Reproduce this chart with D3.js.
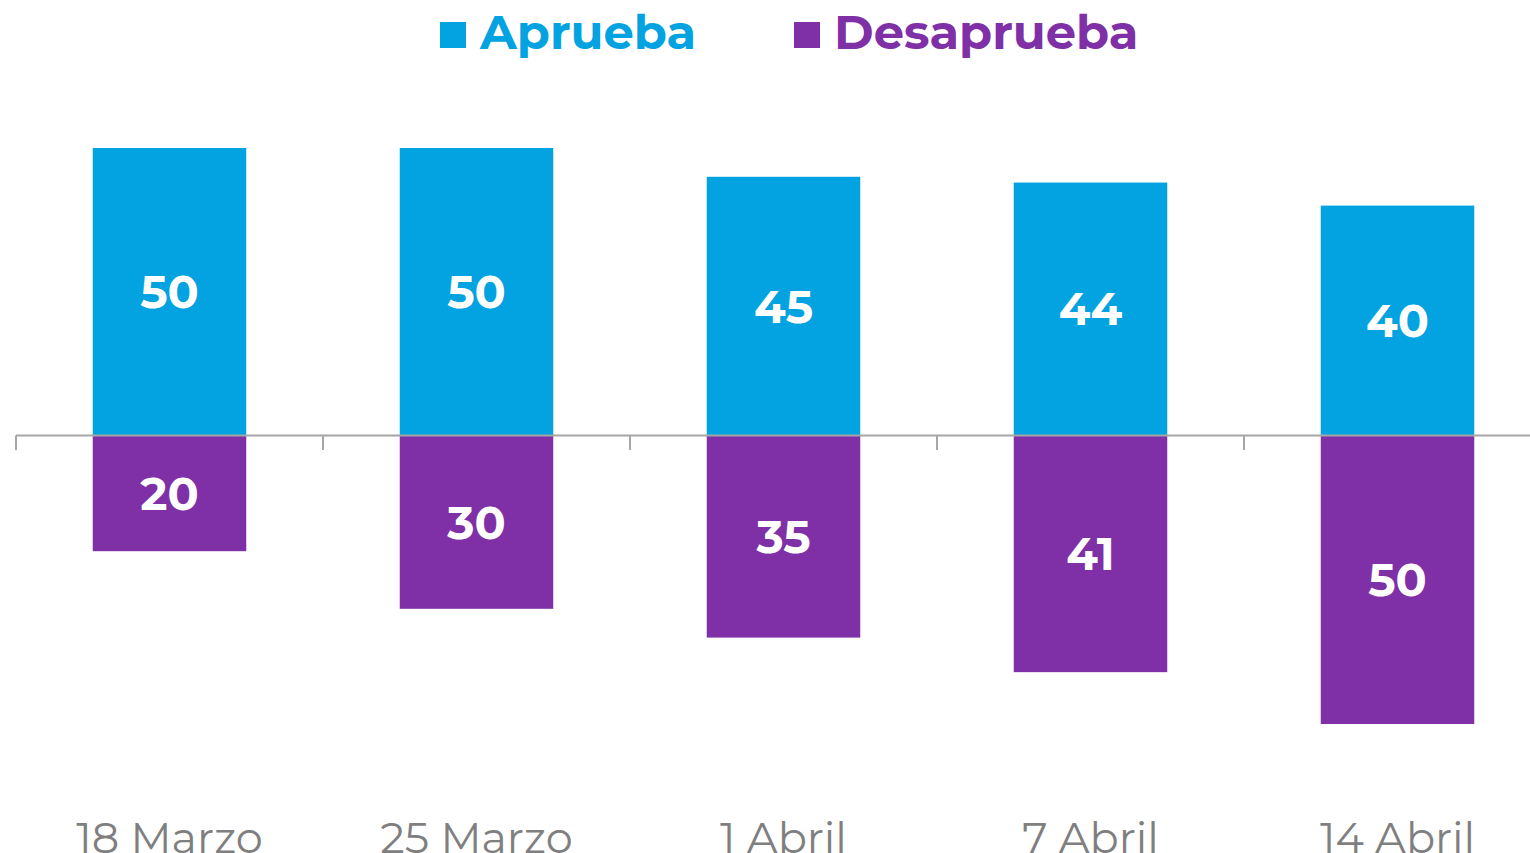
<!DOCTYPE html>
<html>
<head>
<meta charset="utf-8">
<script src="https://cdn.jsdelivr.net/npm/d3@7"></script>
<style>
  body { margin: 0; background: #fff; }
  svg { display: block; }
</style>
</head>
<body>
<script>
// chart data
const fechas = ['18 Marzo', '25 Marzo', '1 Abril', '7 Abril', '14 Abril'];
const aprueba = [50, 50, 45, 44, 40];
const desaprueba = [20, 30, 35, 41, 50];

const W = 1530, H = 853;
const zeroY = 436;
const font = "Montserrat, Lato, 'Open Sans', sans-serif";

const svg = d3.select('body').append('svg')
  .attr('width', W)
  .attr('height', H);

const x = d3.scaleBand()
  .domain(fechas)
  .range([16, 1551])
  .paddingInner(0.5)
  .paddingOuter(0.25);

const y = d3.scaleLinear()
  .domain([-50, 50])
  .range([zeroY + 288, zeroY - 288]);

// aprueba bars (upwards)
svg.selectAll('.apr')
  .data(aprueba)
  .enter().append('rect')
  .attr('class', 'apr')
  .attr('x', (d, i) => x(fechas[i]))
  .attr('width', x.bandwidth())
  .attr('y', d => y(d))
  .attr('height', d => y(0) - y(d))
  .attr('fill', '#03A2E0');

// desaprueba bars (downwards)
svg.selectAll('.des')
  .data(desaprueba)
  .enter().append('rect')
  .attr('class', 'des')
  .attr('x', (d, i) => x(fechas[i]))
  .attr('width', x.bandwidth())
  .attr('y', y(0))
  .attr('height', d => y(-d) - y(0))
  .attr('fill', '#7F30A6');

// value labels
svg.selectAll('.lblA')
  .data(aprueba)
  .enter().append('text')
  .attr('x', (d, i) => x(fechas[i]) + x.bandwidth() / 2)
  .attr('y', d => (y(d) + y(0)) / 2)
  .attr('dy', '0.35em')
  .attr('text-anchor', 'middle')
  .attr('fill', '#fff')
  .attr('font-family', font)
  .attr('font-weight', 'bold')
  .attr('font-size', '46px')
  .text(d => d);

svg.selectAll('.lblD')
  .data(desaprueba)
  .enter().append('text')
  .attr('x', (d, i) => x(fechas[i]) + x.bandwidth() / 2)
  .attr('y', d => (y(-d) + y(0)) / 2)
  .attr('dy', '0.35em')
  .attr('text-anchor', 'middle')
  .attr('fill', '#fff')
  .attr('font-family', font)
  .attr('font-weight', 'bold')
  .attr('font-size', '46px')
  .text(d => d);

// axis at zero, ticks on band edges
const axis = svg.append('g');
axis.append('line')
  .attr('x1', 16).attr('x2', 1551)
  .attr('y1', zeroY - 0.5).attr('y2', zeroY - 0.5)
  .attr('stroke', '#a6a6a6')
  .attr('stroke-width', 2);
axis.selectAll('.tk')
  .data(fechas)
  .enter().append('line')
  .attr('x1', d => x(d) - x.step() * 0.25)
  .attr('x2', d => x(d) - x.step() * 0.25)
  .attr('y1', zeroY - 0.5)
  .attr('y2', zeroY + 14)
  .attr('stroke', '#a6a6a6')
  .attr('stroke-width', 2);

// category labels
svg.selectAll('.cat')
  .data(fechas)
  .enter().append('text')
  .attr('x', d => x(d) + x.bandwidth() / 2)
  .attr('y', 853)
  .attr('text-anchor', 'middle')
  .attr('fill', '#7f7f7f')
  .attr('font-family', font)
  .attr('font-weight', 400)
  .attr('font-size', '43px')
  .text(d => d);

// legend
const legend = [
  { name: 'Aprueba', color: '#03A2E0', x: 440 },
  { name: 'Desaprueba', color: '#7F30A6', x: 794 },
];
const lg = svg.selectAll('.legend')
  .data(legend)
  .enter().append('g')
  .attr('transform', d => `translate(${d.x},22)`);
lg.append('rect')
  .attr('width', 26)
  .attr('height', 26)
  .attr('fill', d => d.color);
lg.append('text')
  .attr('x', 40)
  .attr('y', 27)
  .attr('fill', d => d.color)
  .attr('font-family', font)
  .attr('font-weight', 'bold')
  .attr('font-size', '48px')
  .text(d => d.name);
</script>
</body>
</html>
